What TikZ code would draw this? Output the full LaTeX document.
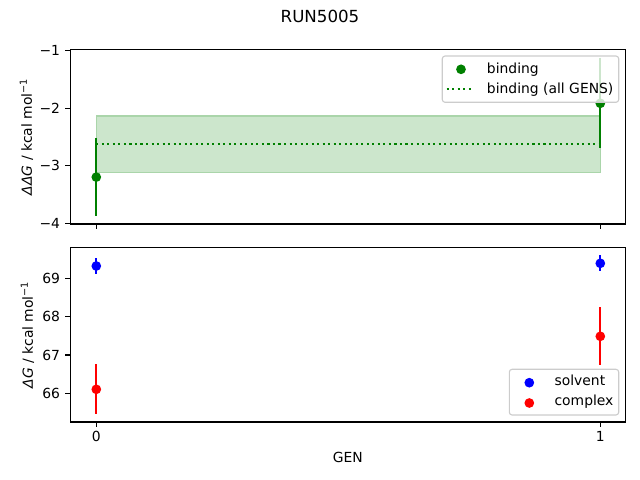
\documentclass[tikz,border=0pt]{standalone}
\usepackage{fontspec}
\setmainfont{DejaVu Sans}
\definecolor{mgreen}{RGB}{0,128,0}
\definecolor{mblue}{RGB}{0,0,255}
\definecolor{mred}{RGB}{255,0,0}
\definecolor{bandfill}{RGB}{204,230,204}
\definecolor{bandedge}{RGB}{170,213,170}
\definecolor{legedge}{RGB}{204,204,204}
\tikzset{
  spine/.style={line width=0.8pt, black},
  tickmark/.style={line width=0.8pt, black},
  ticklab/.style={font=\fontsize{10}{12}\selectfont, inner sep=0pt},
  axlab/.style={font=\fontsize{10}{12}\selectfont, inner sep=0pt},
  ebar/.style={line width=1.5pt},
  dot/.style={circle, minimum size=7pt, inner sep=0pt},
  legbox/.style={draw=legedge, line width=0.8pt, fill=white, fill opacity=0.8, rounded corners=2pt},
  legtext/.style={font=\fontsize{10}{12}\selectfont, inner sep=0pt, anchor=base west},
}
\begin{document}
\begin{tikzpicture}[x=0.72pt, y=-0.72pt]
\useasboundingbox (0,0) rectangle (640,480);
% title
\node[font=\fontsize{12}{14}\selectfont, inner sep=0pt] (title) at (320,16) {RUN5005};

% ===== top panel =====
\fill[bandfill, draw=bandedge, line width=0.8pt] (96.3,116.0) rectangle (600.3,172.8);
\draw[mgreen, line width=1.5pt, dash pattern=on 1.5pt off 2.475pt] (96.3,143.9) -- (600.3,143.9);
\coordinate (b0t) at (96.3,137.9); \coordinate (b0b) at (96.3,216.3);
\coordinate (b1t) at (600.3,57.5); \coordinate (b1b) at (600.3,148.2);
\draw[ebar, mgreen] (b0t) -- (b0b);
\draw[ebar, mgreen] (b1t) -- (b1b);
\node[dot, fill=mgreen] (b0) at (96.3,177.1) {};
\node[dot, fill=mgreen] (b1) at (600.3,103.3) {};
% spines
\draw[spine] (70.3,49.3) rectangle (625.3,224);
% y ticks
\foreach \v/\p in {-1/50.5,-2/108.2,-3/165.8,-4/223.5}{
  \draw[tickmark] (70.3,\p) -- ++(-4.86,0);
  \node[ticklab, anchor=east] at (60.3,\p) {−\the\numexpr-\v\relax};
}
\foreach \p in {96.3,600.3}{\draw[tickmark] (\p,224) -- ++(0,4.86);}
\node[axlab, rotate=90, anchor=south] (ylabtop) at (33.5,136.7) {{\itshape ΔΔG} / kcal mol\textsuperscript{−1}};
% legend top
\draw[legbox] (442.3,56) rectangle (618.7,102.3);
\node[dot, fill=mgreen] (lb) at (461,69.3) {};
\node[legtext] (lbt) at (486.7,73.4) {binding};
\draw[mgreen, line width=1.5pt, dash pattern=on 1.5pt off 2.475pt] (446.7,89.3) -- (474.3,89.3);
\node[legtext] (lbat) at (486.7,93.4) {binding (all GENS)};

% ===== bottom panel =====
\draw[ebar, mblue] (96.3,258.3) -- (96.3,273.7);
\draw[ebar, mblue] (600.3,255.0) -- (600.3,270.7);
\draw[ebar, mred] (96.3,364.0) -- (96.3,414.0);
\draw[ebar, mred] (600.3,307.3) -- (600.3,365.3);
\node[dot, fill=mblue] (s0) at (96.3,266.0) {};
\node[dot, fill=mblue] (s1) at (600.3,263.3) {};
\node[dot, fill=mred] (c0) at (96.3,389.3) {};
\node[dot, fill=mred] (c1) at (600.3,336.3) {};
\draw[spine] (70.3,247.3) rectangle (625.3,422);
\foreach \v/\p in {69/278.3,68/316.6,67/355.0,66/393.3}{
  \draw[tickmark] (70.3,\p) -- ++(-4.86,0);
  \node[ticklab, anchor=east] at (60.3,\p) {\v};
}
\foreach \v/\p in {0/96.3,1/600.3}{
  \draw[tickmark] (\p,422) -- ++(0,4.86);
  \node[ticklab, anchor=base] at (\p,441.5) {\v};
}
\node[axlab, rotate=90, anchor=south] (ylabbot) at (34.5,334.7) {{\itshape ΔG} / kcal mol\textsuperscript{−1}};
\node[axlab, anchor=base] (xlab) at (347.8,462) {GEN};
% legend bottom
\draw[legbox] (509.3,369.3) rectangle (618.7,415);
\node[dot, fill=mblue] (ls) at (529.3,382.7) {};
\node[legtext] (lst) at (554.3,385.3) {solvent};
\node[dot, fill=mred] (lc) at (529.3,403.0) {};
\node[legtext] (lct) at (554.3,405.7) {complex};
\end{tikzpicture}
\end{document}
